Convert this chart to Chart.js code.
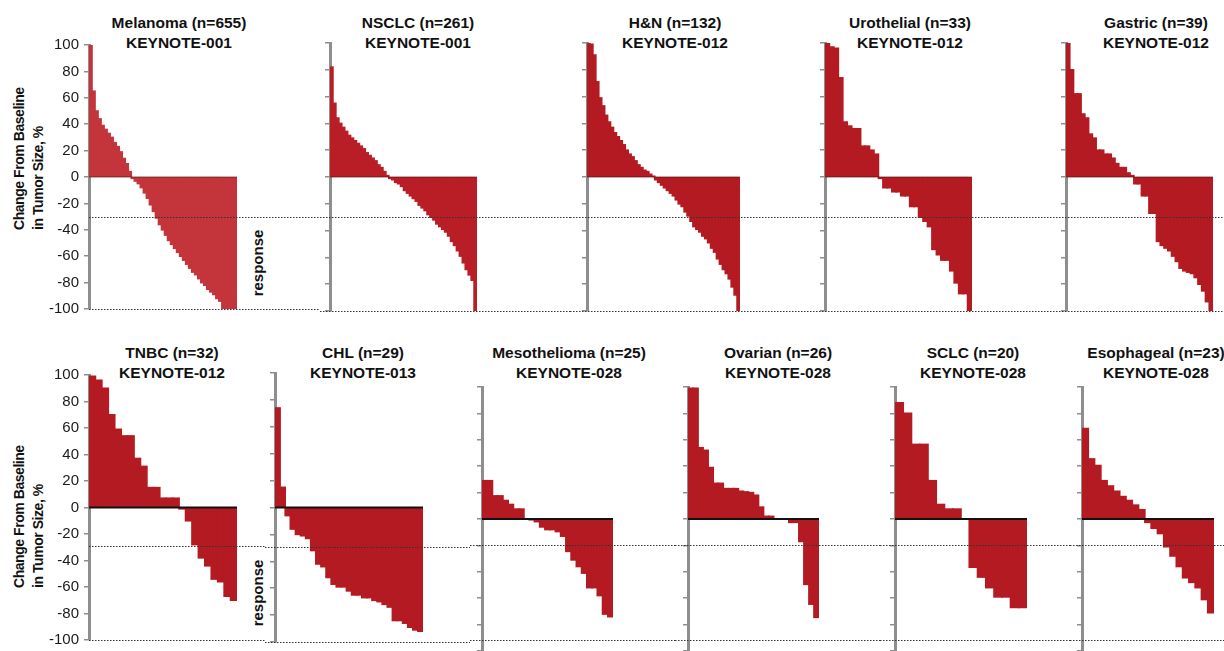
<!DOCTYPE html>
<html>
<head>
<meta charset="utf-8">
<script src="https://cdn.jsdelivr.net/npm/chart.js@4.4.0/dist/chart.umd.min.js"></script>
<style>
  body { margin: 0; width: 1224px; height: 651px; overflow: hidden; background: #fff; position: relative;
         font-family: "Liberation Sans", Arial, Helvetica, sans-serif; color: #111; }
  canvas { position: absolute; }
  .ttl { position: absolute; transform: translateX(-50%); text-align: center; font-weight: bold;
         font-size: 15.5px; line-height: 20px; white-space: nowrap; }
  .ytitle { position: absolute; transform-origin: 0 0; transform: rotate(-90deg); font-weight: bold;
            font-size: 14px; letter-spacing: -0.45px; line-height: 18.5px; white-space: nowrap; }
  .resp { position: absolute; transform: translate(-50%, -50%) rotate(-90deg); font-weight: bold;
          font-size: 15px; white-space: nowrap; }
</style>
</head>
<body>
<div class="ytitle" style="left:10px; top:230px">Change From Baseline<br>in Tumor Size, %</div>
<div class="ytitle" style="left:10px; top:588px">Change From Baseline<br>in Tumor Size, %</div>
<div class="resp" style="left:257px; top:263px">response</div>
<div class="resp" style="left:257px; top:593px">response</div>

<script>
// ── Waterfall data: % change from baseline per patient bar ──
const melanoma   = [100,65,50,44,39,36,33,30,26,23,19,14,10,4,-1,-3,-5,-8,-12,-16,-21,-26,-31,-36,-40,-44,-48,-51,-54,-57,-60,-63,-66,-69,-72,-74,-77,-80,-82,-85,-87,-89,-92,-94,-100,-100,-100,-100,-100];
const nsclc      = [82,55,44,40,37,34,31,29,27,25,23,21,18,16,14,12,9,7,4,1,-1,-2,-4,-5,-7,-10,-12,-14,-16,-18,-21,-23,-25,-28,-30,-32,-35,-37,-39,-41,-44,-48,-51,-55,-59,-64,-69,-73,-77,-100];
const headNeck   = [100,99,91,71,59,53,46,41,37,33,30,27,24,20,17,15,12,9,7,5,4,2,0.5,-2,-4,-6,-8,-10,-12,-14,-17,-20,-22,-26,-29,-33,-37,-39,-41,-44,-46,-49,-53,-56,-61,-65,-69,-72,-76,-82,-88,-100];
const urothelial = [100,97,96,74,41,38,36,36,23,23,20,17,-1,-8,-8,-11,-11,-14,-14,-22,-22,-30,-33,-37,-54,-58,-62,-62,-70,-79,-87,-87,-100];
const gastric    = [100,80,62,62,47,44,32,29,20,20,17,17,14,10,7,7,3,1,-5,-5,-14,-14,-27,-27,-48,-51,-53,-55,-59,-63,-68,-70,-71,-72,-75,-80,-85,-93,-100];
const tnbc       = [99,96,90,70,59,54,54,37,31,15,15,7,7,7,-1,-10,-28,-38,-44,-54,-56,-67,-70];
const chl        = [74,15,-6,-16,-20,-21,-23,-32,-42,-44,-52,-57,-59,-59,-62,-65,-65,-67,-67,-69,-70,-72,-74,-84,-84,-86,-89,-91,-92];
const meso       = [29,29,17.5,17.5,14,11,7.5,7.5,0,-0.5,-2,-6,-8,-8,-9.5,-13,-24.5,-31,-36,-41,-52,-52,-58,-72,-74];
const ovarian    = [99,99,54,52,39,27,27,23,23,23,21,20.5,20,18,9,2,2,0,0,0,-2.5,-2.5,-17,-49.5,-64.5,-74.5];
const sclc       = [88,80,56.5,56.5,29,11,7.5,7.5,0,-36.5,-44,-52,-59,-59,-67,-67];
const esophageal = [68.5,45.5,40.5,29,25,21,17,14,10.5,7,-2.5,-7,-11,-21,-28,-36,-44.5,-48,-52,-61,-71];

const tumorNames = ['Melanoma (n=655)', 'NSCLC (n=261)', 'H&N (n=132)', 'Urothelial (n=33)', 'Gastric (n=39)',
                    'TNBC (n=32)', 'CHL (n=29)', 'Mesothelioma (n=25)', 'Ovarian (n=26)', 'SCLC (n=20)', 'Esophageal (n=23)'];
const trialNames = ['KEYNOTE-001', 'KEYNOTE-001', 'KEYNOTE-012', 'KEYNOTE-012', 'KEYNOTE-012',
                    'KEYNOTE-012', 'KEYNOTE-013', 'KEYNOTE-028', 'KEYNOTE-028', 'KEYNOTE-028', 'KEYNOTE-028'];
const seriesList = [melanoma, nsclc, headNeck, urothelial, gastric, tnbc, chl, meso, ovarian, sclc, esophageal];

const tickValues = [-100, -80, -60, -40, -20, 0, 20, 40, 60, 80, 100];
// dotted reference lines (-30% response threshold and -100%), per row in that panel's own scale
const refTop = [-30, -100];
const refLeft = [-29, -100];
const refRight = [-20, -92];

// ── Panel geometry (page px) ──
const layout = [
  { left: 0,    top: 31,  w: 320, h: 292, axisW: 89, padR: 83, labels: true,  refs: refTop,   color: '#c4353b', tx: 179, ty: 13 },
  { left: 320,  top: 31,  w: 250, h: 292, axisW: 10, padR: 93, labels: false, refs: refTop,   color: '#b91e27', tx: 418, ty: 13 },
  { left: 570,  top: 31,  w: 240, h: 292, axisW: 17, padR: 70, labels: false, refs: refTop,   color: '#b31a22', tx: 675, ty: 13 },
  { left: 810,  top: 31,  w: 240, h: 292, axisW: 15, padR: 78, labels: false, refs: refTop,   color: '#b31a22', tx: 910, ty: 13 },
  { left: 1050, top: 31,  w: 174, h: 292, axisW: 16, padR: 11, labels: false, refs: refTop,   color: '#b31a22', tx: 1156, ty: 13 },
  { left: 0,    top: 361, w: 265, h: 293, axisW: 89, padR: 28, labels: true,  refs: refLeft,  color: '#b31a22', tx: 172, ty: 343 },
  { left: 265,  top: 361, w: 205, h: 293, axisW: 10, padR: 47, labels: false, refs: refLeft,  color: '#b31a22', tx: 363, ty: 343 },
  { left: 470,  top: 375, w: 205, h: 288, axisW: 12, padR: 62, labels: false, refs: refRight, color: '#b31a22', tx: 569, ty: 343 },
  { left: 675,  top: 375, w: 205, h: 288, axisW: 13, padR: 61, labels: false, refs: refRight, color: '#b31a22', tx: 778, ty: 343 },
  { left: 880,  top: 375, w: 190, h: 288, axisW: 15, padR: 43, labels: false, refs: refRight, color: '#b31a22', tx: 973, ty: 343 },
  { left: 1070, top: 375, w: 154, h: 288, axisW: 12, padR: 10, labels: false, refs: refRight, color: '#b31a22', tx: 1156, ty: 343 }
];

Chart.defaults.font.family = '"Liberation Sans", Arial, Helvetica, sans-serif';

// zero line + dotted threshold lines drawn over the bars
const refLinesPlugin = {
  id: 'refLines',
  afterDatasetsDraw(chart, args, opts) {
    const { ctx, chartArea, scales: { y } } = chart;
    ctx.save();
    const y0 = y.getPixelForValue(0);
    ctx.strokeStyle = opts.zeroColor;
    ctx.lineWidth = opts.zeroWidth;
    ctx.beginPath();
    ctx.moveTo(chartArea.left, y0);
    ctx.lineTo(chartArea.right, y0);
    ctx.stroke();

    ctx.strokeStyle = '#333';
    ctx.lineWidth = 1;
    ctx.setLineDash([1.5, 1.5]);
    opts.values.forEach(v => {
      const py = Math.round(y.getPixelForValue(v)) + 0.5;
      ctx.beginPath();
      ctx.moveTo(opts.fromAxis ? chartArea.left : 0, py);
      ctx.lineTo(chart.width, py);
      ctx.stroke();
    });
    ctx.restore();
  }
};

seriesList.forEach((vals, i) => {
  const L = layout[i];
  const bottomRow = i >= 5;

  const t = document.createElement('div');
  t.className = 'ttl';
  t.style.left = L.tx + 'px';
  t.style.top = L.ty + 'px';
  t.innerHTML = tumorNames[i].replace('&', '&amp;') + '<br>' + trialNames[i];
  document.body.appendChild(t);

  const cv = document.createElement('canvas');
  cv.width = L.w; cv.height = L.h;
  cv.style.left = L.left + 'px';
  cv.style.top = L.top + 'px';
  cv.style.width = L.w + 'px';
  cv.style.height = L.h + 'px';
  document.body.appendChild(cv);

  new Chart(cv, {
    type: 'bar',
    data: {
      labels: vals.map((_, k) => k + 1),
      datasets: [{ data: vals, backgroundColor: L.color, borderWidth: 0, inflateAmount: 0.8,
                   barPercentage: 1, categoryPercentage: 1 }]
    },
    options: {
      responsive: false,
      animation: false,
      events: [],
      layout: { padding: { top: 12, bottom: 12, left: 0, right: L.padR } },
      plugins: {
        legend: { display: false },
        tooltip: { enabled: false },
        refLines: {
          values: L.refs,
          fromAxis: L.labels,
          zeroColor: bottomRow ? '#111' : 'rgba(70,10,10,0.6)',
          zeroWidth: bottomRow ? 2 : 1
        }
      },
      scales: {
        x: { display: false },
        y: {
          min: -100, max: 100, z: 1,
          afterFit: s => { s.width = L.axisW; },
          afterBuildTicks: s => { s.ticks = tickValues.map(v => ({ value: v })); },
          border: { display: true, color: '#8e8e8e', width: 3 },
          grid: { drawOnChartArea: false, drawTicks: true, tickLength: 5, color: '#8e8e8e', lineWidth: 1.5 },
          ticks: { display: L.labels, padding: 5, color: '#1a1a1a', font: { size: 15 } }
        }
      }
    },
    plugins: [refLinesPlugin]
  });
});
</script>
</body>
</html>
